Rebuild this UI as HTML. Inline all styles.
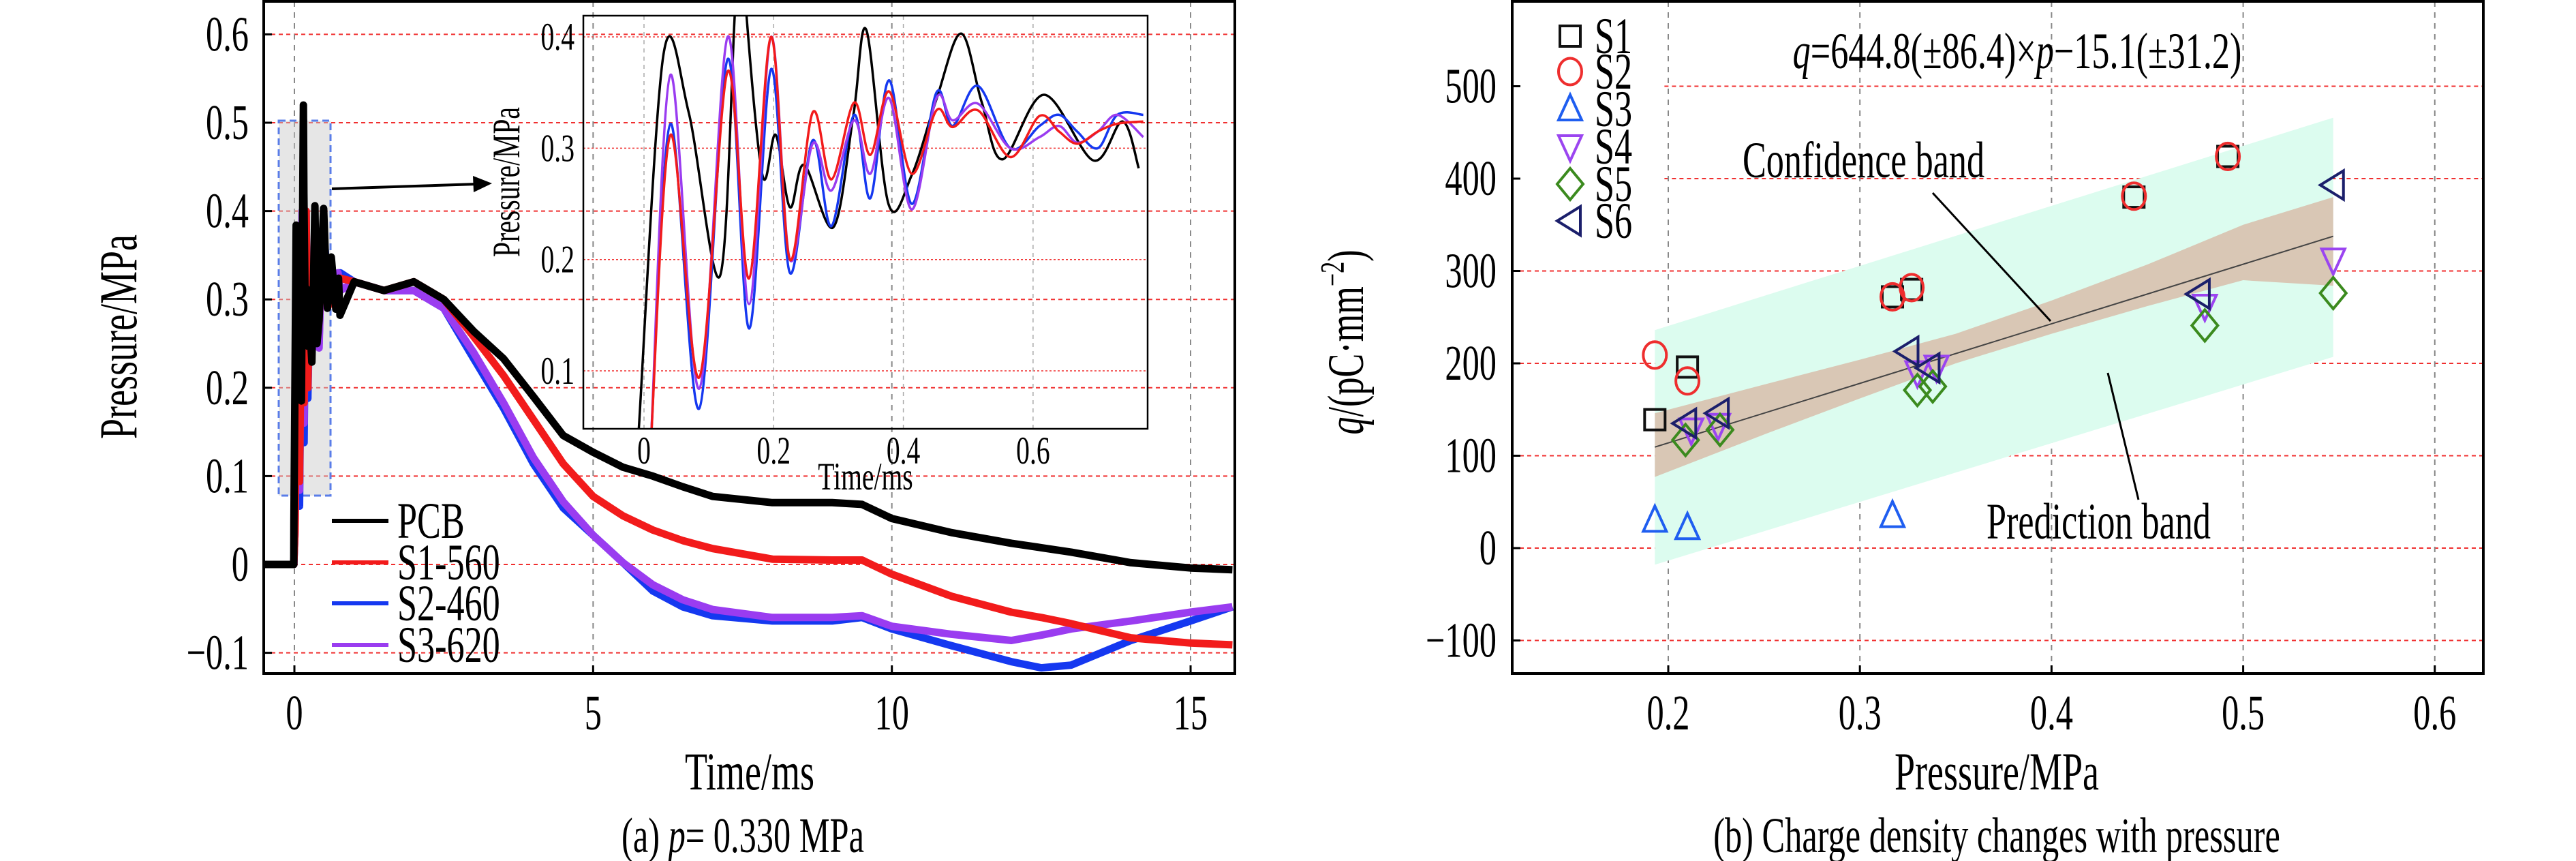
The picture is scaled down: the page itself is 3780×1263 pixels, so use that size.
<!DOCTYPE html>
<html><head><meta charset="utf-8"><style>
html,body{margin:0;padding:0;background:#fff}
svg{display:block;font-family:"Liberation Serif",serif}
</style></head><body>
<svg id="s" width="3780" height="1263" viewBox="0 0 3780 1263" xmlns="http://www.w3.org/2000/svg"></svg>
<script>
// ---- Panel (a) data ----
const preT=[-0.5,-0.01];
const preV=[0,0];
const insetT_pcb=[-0.008,0.03,0.069,0.117,0.14,0.15,0.158,0.183,0.203,0.225,0.247,0.292,0.323,0.343,0.377,0.413,0.451,0.489,0.521,0.553,0.617,0.693,0.738,0.763];
const insetV_pcb=[0.048,0.384,0.332,0.185,0.42,0.52,0.42,0.275,0.312,0.247,0.285,0.229,0.33,0.406,0.25,0.276,0.344,0.403,0.341,0.29,0.348,0.289,0.324,0.282];
const insetT_col=[0.011,0.041,0.085,0.129,0.162,0.196,0.225,0.26,0.289,0.324,0.349,0.378,0.413,0.451,0.476,0.515,0.565,0.61,0.64,0.668,0.7,0.73,0.77];
const insetV_s1=[0.04,0.312,0.094,0.369,0.183,0.40,0.2,0.332,0.272,0.341,0.294,0.351,0.277,0.334,0.319,0.334,0.292,0.329,0.315,0.304,0.315,0.322,0.324];
const insetV_s2=[0.04,0.322,0.066,0.38,0.138,0.371,0.188,0.307,0.23,0.33,0.255,0.361,0.25,0.35,0.32,0.356,0.30,0.32,0.33,0.315,0.30,0.33,0.33];
const insetV_s3=[0.04,0.366,0.084,0.40,0.16,0.40,0.2,0.304,0.262,0.325,0.277,0.345,0.245,0.345,0.325,0.34,0.30,0.31,0.32,0.305,0.315,0.33,0.31];
const lateT=[1,1.5,2,2.5,3,3.5,4,4.5,5,5.5,6,6.5,7,8,9,9.5,10,11,12,12.5,13,14,15,15.7];
const late_pcb=[0.32,0.31,0.32,0.30,0.264,0.233,0.19,0.146,0.127,0.11,0.10,0.088,0.077,0.07,0.07,0.068,0.052,0.036,0.024,0.019,0.014,0.002,-0.004,-0.006];
const late_s1=[0.32,0.31,0.32,0.30,0.258,0.214,0.164,0.114,0.077,0.055,0.039,0.027,0.018,0.006,0.005,0.005,-0.011,-0.036,-0.054,-0.06,-0.067,-0.083,-0.089,-0.091];
const late_s2=[0.32,0.31,0.31,0.29,0.233,0.177,0.114,0.064,0.033,0.002,-0.03,-0.048,-0.058,-0.064,-0.064,-0.06,-0.073,-0.092,-0.11,-0.117,-0.114,-0.086,-0.064,-0.048];
const late_s3=[0.32,0.31,0.31,0.29,0.24,0.183,0.121,0.071,0.033,0.002,-0.023,-0.04,-0.051,-0.06,-0.06,-0.058,-0.07,-0.079,-0.086,-0.08,-0.073,-0.064,-0.054,-0.048];
const seriesNames=["PCB","S1-560","S2-460","S3-620"];
const seriesColors=["#000","#f21b1b","#1538f0","#9a3cf0"];
const mainYTicks=[-0.1,0,0.1,0.2,0.3,0.4,0.5,0.6];
const mainYLabels=["\u22120.1","0","0.1","0.2","0.3","0.4","0.5","0.6"];
const mainXTicks=[0,5,10,15];
const insetYTicks=[0.1,0.2,0.3,0.4];
const insetXTicks=[0,0.2,0.4,0.6];
// ---- Panel (b) data ----
const s1P=[0.193,0.210,0.317,0.327,0.443,0.492], s1Q=[139,196,272,280,380,424];
const s2P=[0.193,0.210,0.317,0.327,0.443,0.492], s2Q=[209,181,272,282,381,424];
const s3P=[0.193,0.210,0.317], s3Q=[30,22,35];
const s4P=[0.212,0.226,0.330,0.340,0.480,0.547], s4Q=[128,133,190,196,262,312];
const s5P=[0.209,0.227,0.330,0.338,0.480,0.547], s5Q=[117,128,171,175,241,276];
const s6P=[0.209,0.226,0.325,0.336,0.477,0.547], s6Q=[135,146,213,195,275,393];
const fitSlope=644.8, fitIntercept=-15.1, fitRange=[0.193,0.547];
const confP=[0.193,0.25,0.30,0.35,0.40,0.45,0.50,0.547];
const confLo=[77,123,162,200,232,262,290,284];
const confHi=[146,177,204,232,268,307,350,380];
const predP=[0.193,0.547];
const predLo=[-18,207];
const predHi=[236,466];
const bYTicks=[-100,0,100,200,300,400,500];
const bXTicks=[0.2,0.3,0.4,0.5,0.6];

const NS="http://www.w3.org/2000/svg";
const svg=document.getElementById('s');
const SX=0.9, SY=1.3;
function el(tag,attrs,parent){const e=document.createElementNS(NS,tag);for(const k in attrs)e.setAttribute(k,attrs[k]);(parent||svg).appendChild(e);return e;}
// text with the narrow/tall look of the reference
function T(s,x,y,size,anchor,parent,rot,html){
  const tr='translate('+x+','+y+')'+(rot?' rotate('+rot+')':'')+' scale('+SX+','+SY+')';
  const e=el('text',{x:0,y:0,'font-size':size,'text-anchor':anchor||'start',transform:tr},parent);
  if(html)e.innerHTML=s;else e.textContent=s;return e;
}

const ax={l:387,r:1812,t:2,b:988};
const X=t=>432+(t)*87.67;
const Y=v=>828-v*1296;
const ins={l:856,r:1684,t:23,b:629};
const IX=t=>945+t*951.5;
const IY=v=>544-(v-0.1)*1633;
const bx={l:2219,r:3644,t:2,b:988};
const BX=p=>2448+(p-0.2)*2812;
const BY=q=>804-q*1.355;

const gA=el('g',{});

const defs=el('defs',{});
const cp=el('clipPath',{id:'cpA'},defs);el('rect',{x:ax.l,y:ax.t,width:ax.r-ax.l,height:ax.b-ax.t},cp);
const cpi=el('clipPath',{id:'cpI'},defs);el('rect',{x:ins.l,y:ins.t,width:ins.r-ins.l,height:ins.b-ins.t},cpi);
const cpb=el('clipPath',{id:'cpB'},defs);el('rect',{x:bx.l,y:bx.t,width:bx.r-bx.l,height:bx.b-bx.t},cpb);

mainYTicks.forEach((v,i)=>{
  const l=el('line',{x1:ax.l,x2:ax.r,y1:Y(v),y2:Y(v),stroke:'#f03030','stroke-width':2,'stroke-dasharray':'6,5'},gA);
  
  const t=T(mainYLabels[i],365,Y(v)+24,56,'end',gA);
  
  el('line',{x1:ax.l,x2:ax.l+12,y1:Y(v),y2:Y(v),stroke:'#000','stroke-width':3},gA);
});
mainXTicks.forEach(v=>{
  const l=el('line',{x1:X(v),x2:X(v),y1:ax.t,y2:ax.b,stroke:'#888','stroke-width':2,'stroke-dasharray':'8,8'},gA);
  
  const t=T(String(v),X(v),1070,56,'middle',gA);
  
  el('line',{x1:X(v),x2:X(v),y1:ax.b,y2:ax.b-12,stroke:'#000','stroke-width':3},gA);
});
const hr=el('rect',{x:409,y:177,width:76,height:550,fill:'#c8c8c8','fill-opacity':0.45,stroke:'#5a7de8','stroke-width':3,'stroke-dasharray':'10,6'},gA);


function mkPath(ts,vs,fx,fy){return ts.map((t,i)=>(i?'L':'M')+fx(t).toFixed(1)+','+fy(vs[i]).toFixed(1)).join(' ');}
const mainData=[
  [preT.concat(insetT_pcb,lateT),preV.concat(insetV_pcb,late_pcb)],
  [preT.concat(insetT_col,lateT),preV.concat(insetV_s1,late_s1)],
  [preT.concat(insetT_col,lateT),preV.concat(insetV_s2,late_s2)],
  [preT.concat(insetT_col,lateT),preV.concat(insetV_s3,late_s3)]
];
const gc=el('g',{'clip-path':'url(#cpA)'},gA);
[2,3,1,0].forEach(k=>{
  const p=el('path',{d:mkPath(mainData[k][0],mainData[k][1],X,Y),fill:'none',stroke:seriesColors[k],'stroke-width':11,'stroke-linejoin':'round'},gc);
  
});
const fr=el('rect',{x:ax.l,y:ax.t,width:ax.r-ax.l,height:ax.b-ax.t,fill:'none',stroke:'#000','stroke-width':4},gA);

el('line',{x1:487,y1:277,x2:700,y2:270,stroke:'#000','stroke-width':4},gA);
el('polygon',{points:'722,269 694,258 695,282',fill:'#000'},gA);
// inset
const gI=el('g',{},gA);
insetYTicks.forEach(v=>{
  el('line',{x1:ins.l,x2:ins.r,y1:IY(v),y2:IY(v),stroke:'#f03030','stroke-width':1.5,'stroke-dasharray':'3,3'},gI);
  const t=T(v.toFixed(1),843,IY(v)+19,44,'end',gI);
  
});
insetXTicks.forEach(v=>{
  el('line',{x1:IX(v),x2:IX(v),y1:ins.t,y2:ins.b,stroke:'#aaa','stroke-width':1.5,'stroke-dasharray':'6,6'},gI);
  const t=T(String(v),IX(v),680,44,'middle',gI);
  
});
const gic=el('g',{'clip-path':'url(#cpI)'},gI);
const insData=[[insetT_pcb,insetV_pcb],[insetT_col,insetV_s1],[insetT_col,insetV_s2],[insetT_col,insetV_s3]];
[0,2,3,1].forEach(k=>{
  const ts=insData[k][0],vs=insData[k][1];
  let d='M'+IX(ts[0])+','+IY(vs[0]);
  for(let i=0;i<ts.length-1;i++){
    const p0=[IX(ts[Math.max(i-1,0)]),IY(vs[Math.max(i-1,0)])],p1=[IX(ts[i]),IY(vs[i])],p2=[IX(ts[i+1]),IY(vs[i+1])],p3=[IX(ts[Math.min(i+2,ts.length-1)]),IY(vs[Math.min(i+2,ts.length-1)])];
    const c1=[p1[0]+(p2[0]-p0[0])/6,p1[1]+(p2[1]-p0[1])/6],c2=[p2[0]-(p3[0]-p1[0])/6,p2[1]-(p3[1]-p1[1])/6];
    d+=' C'+c1.join(',')+' '+c2.join(',')+' '+p2.join(',');
  }
  const p=el('path',{d:d,fill:'none',stroke:seriesColors[k],'stroke-width':3.5},gic);
  
});
el('rect',{x:ins.l,y:ins.t,width:ins.r-ins.l,height:ins.b-ins.t,fill:'none',stroke:'#000','stroke-width':2.5},gI);
let t1=T('Pressure/MPa',762,267,44,'middle',gI,-90);

t1=T('Time/ms',1270,718,44,'middle',gI);

const rowsY=[764,825,885,946];
seriesNames.forEach((n,i)=>{
  const g=el('g',{},gA);
  el('line',{x1:487,x2:570,y1:rowsY[i],y2:rowsY[i],stroke:seriesColors[i],'stroke-width':6},g);
  T(n,583,rowsY[i]+25,58,'start',g);
});
t1=T('Pressure/MPa',200,494,60,'middle',gA,-90);

t1=T('Time/ms',1100,1158,60,'middle',gA);

t1=T('(a) <tspan font-style="italic">p</tspan>= 0.330 MPa',1090,1250,56,'middle',gA,0,true);


// ---- Panel b ----
const gB=el('g',{});
bYTicks.forEach(v=>{
  const x1=(v>=400)?BX(0.198):bx.l;
  const l=el('line',{x1:x1,x2:bx.r,y1:BY(v),y2:BY(v),stroke:'#f03030','stroke-width':2,'stroke-dasharray':'6,5'},gB);
  
  const t=T(v<0?'\u2212'+Math.abs(v):String(v),2196,BY(v)+24,56,'end',gB);
  
  el('line',{x1:bx.l,x2:bx.l+12,y1:BY(v),y2:BY(v),stroke:'#000','stroke-width':3},gB);
});
bXTicks.forEach(v=>{
  const l=el('line',{x1:BX(v),x2:BX(v),y1:bx.t,y2:bx.b,stroke:'#888','stroke-width':2,'stroke-dasharray':'8,8'},gB);
  
  const t=T(v.toFixed(1),BX(v),1070,56,'middle',gB);
  
  el('line',{x1:BX(v),x2:BX(v),y1:bx.b,y2:bx.b-12,stroke:'#000','stroke-width':3},gB);
});
const gbc=el('g',{'clip-path':'url(#cpB)'},gB);
let pb=el('polygon',{points:predP.map((p,i)=>BX(p)+','+BY(predHi[i])).concat(predP.slice().reverse().map((p,i)=>BX(p)+','+BY(predLo[predP.length-1-i]))).join(' '),fill:'#dcfcef'},gbc);

pb=el('polygon',{points:confP.map((p,i)=>BX(p)+','+BY(confHi[i])).concat(confP.slice().reverse().map((p,i)=>BX(p)+','+BY(confLo[confP.length-1-i]))).join(' '),fill:'#d9c7b5'},gbc);

pb=el('line',{x1:BX(fitRange[0]),y1:BY(fitSlope*fitRange[0]+fitIntercept),x2:BX(fitRange[1]),y2:BY(fitSlope*fitRange[1]+fitIntercept),stroke:'#444','stroke-width':2},gbc);


const R=17;
function marker(type,cx,cy,color,g){
  const sw=4;
  if(type==='sq')return el('rect',{x:cx-R+2,y:cy-R+2,width:2*R-4,height:2*R-4,fill:'none',stroke:color,'stroke-width':sw},g);
  if(type==='ci')return el('ellipse',{cx:cx,cy:cy,rx:R,ry:R*1.15,fill:'none',stroke:color,'stroke-width':sw},g);
  if(type==='up')return el('polygon',{points:`${cx},${cy-R-4} ${cx+R},${cy+R-1} ${cx-R},${cy+R-1}`,fill:'none',stroke:color,'stroke-width':sw},g);
  if(type==='dn')return el('polygon',{points:`${cx},${cy+R+4} ${cx+R},${cy-R+1} ${cx-R},${cy-R+1}`,fill:'none',stroke:color,'stroke-width':sw},g);
  if(type==='di')return el('polygon',{points:`${cx},${cy-R-6} ${cx+R+2},${cy} ${cx},${cy+R+6} ${cx-R-2},${cy}`,fill:'none',stroke:color,'stroke-width':sw},g);
  if(type==='lt')return el('polygon',{points:`${cx-R-2},${cy} ${cx+R-2},${cy-R-4} ${cx+R-2},${cy+R+4}`,fill:'none',stroke:color,'stroke-width':sw},g);
}
const ser=[['S1','sq','#111',s1P,s1Q],['S2','ci','#ee2e2e',s2P,s2Q],['S3','up','#1f5ef0',s3P,s3Q],['S4','dn','#9b45f0',s4P,s4Q],['S5','di','#3b8a1e',s5P,s5Q],['S6','lt','#1b1f6b',s6P,s6Q]];
const legY=[53,105,160,215,270,324];
ser.forEach((s,k)=>{
  const g=el('g',{},gB);
  s[3].forEach((p,i)=>{const m=marker(s[1],BX(p),BY(s[4][i]),s[2],g);
    });
  const lg=el('g',{},gB);
  marker(s[1],2304,legY[k],s[2],lg);
  T(s[0],2340,legY[k]+25,58,'start',lg);
});
el('rect',{x:bx.l,y:bx.t,width:bx.r-bx.l,height:bx.b-bx.t,fill:'none',stroke:'#000','stroke-width':4},gB);
t1=T('<tspan font-style="italic">q</tspan>=644.8(±86.4)×<tspan font-style="italic">p</tspan>−15.1(±31.2)',2960,100,58,'middle',gB,0,true);

t1=T('Confidence band',2557,260,58,'start',gB);

el('line',{x1:2836,y1:283,x2:3009,y2:471,stroke:'#000','stroke-width':3},gB);
t1=T('Prediction band',2915,790,58,'start',gB);

el('line',{x1:3138,y1:733,x2:3093,y2:547,stroke:'#000','stroke-width':3},gB);
t1=T('<tspan font-style="italic">q</tspan>/(pC·mm<tspan font-size="38" dy="-22">−2</tspan><tspan dy="22">)</tspan>',2000,502,58,'middle',gB,-90,true);

t1=T('Pressure/MPa',2930,1158,60,'middle',gB);

t1=T('(b) Charge density changes with pressure',2930,1250,56,'middle',gB);

</script>
</body></html>
